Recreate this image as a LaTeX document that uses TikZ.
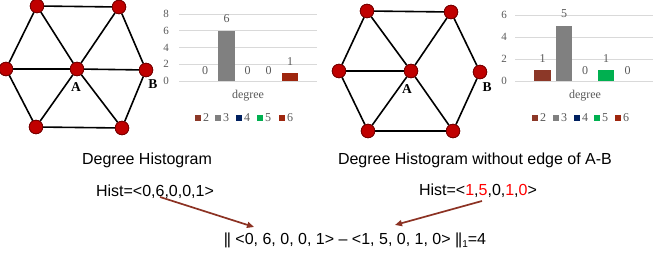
\documentclass[tikz,border=0pt]{standalone}
\usepackage{fontspec}
\setmainfont{Liberation Serif}
\newfontfamily\arial{Liberation Sans}
\usetikzlibrary{arrows.meta}
\definecolor{nodered}{RGB}{192,0,0}
\definecolor{nodeedge}{RGB}{120,0,0}
\definecolor{cbrown}{RGB}{140,56,40}
\definecolor{cgray}{RGB}{128,128,128}
\definecolor{cnavy}{RGB}{0,32,96}
\definecolor{cgreen}{RGB}{0,176,80}
\definecolor{cred}{RGB}{158,38,14}
\definecolor{gridc}{RGB}{217,217,217}
\definecolor{axtext}{RGB}{89,89,89}
\definecolor{arrowc}{RGB}{140,50,35}
\definecolor{hred}{RGB}{255,0,0}
\tikzset{
  vtx/.style={circle,fill=nodered,draw=nodeedge,line width=0.8pt,minimum size=13.5pt,inner sep=0pt},
  edge/.style={line width=1.6pt,black},
  vlabel/.style={font=\fontsize{13.5}{13.5}\selectfont\bfseries,inner sep=0pt},
  gridl/.style={gridc,line width=0.8pt},
  axlab/.style={font=\fontsize{11}{11}\selectfont,text=axtext,inner sep=0pt},
  datlab/.style={font=\fontsize{12}{12}\selectfont,text=axtext,inner sep=0pt},
  legsq/.style={minimum size=6.5pt,inner sep=0pt},
  title/.style={font=\arial\fontsize{16}{16}\selectfont,inner sep=0pt},
  hist/.style={font=\arial\fontsize{16}{16}\selectfont,inner sep=0pt},
  pointer/.style={arrowc,line width=1.7pt,-{Triangle[length=7pt,width=6pt]}},
}
\newcommand{\dbar}{\mbox{|\kern-1.2pt|}}
\newcommand{\subone}{\raisebox{-3.5pt}{\fontsize{10}{10}\selectfont 1}}
\begin{document}
\begin{tikzpicture}[x=1pt,y=-1pt]
\useasboundingbox (0,0) rectangle (664,261);

% ---------- left graph ----------
\node[vtx] (lTL) at (37,6) {};
\node[vtx] (lTR) at (119,7) {};
\node[vtx] (lL) at (6,69) {};
\node[vtx] (lA) at (77,69) {};
\node[vtx] (lB) at (146,70) {};
\node[vtx] (lBL) at (36,127) {};
\node[vtx] (lBR) at (122,128) {};
\draw[edge] (lTL) -- (lTR);
\draw[edge] (lTL) -- (lL);
\draw[edge] (lTL) -- (lA);
\draw[edge] (lTR) -- (lA);
\draw[edge] (lTR) -- (lB);
\draw[edge] (lL) -- (lA);
\draw[edge] (lA) -- (lB);
\draw[edge] (lL) -- (lBL);
\draw[edge] (lA) -- (lBL);
\draw[edge] (lA) -- (lBR);
\draw[edge] (lB) -- (lBR);
\draw[edge] (lBL) -- (lBR);
\foreach \n in {lTL,lTR,lL,lA,lB,lBL,lBR}{\node[vtx] at (\n) {};}
\node[vlabel] (lAl) at (76,87) {A};
\node[vlabel] (lBl) at (153,84) {B};

% ---------- right graph ----------
\node[vtx] (rTL) at (367,11) {};
\node[vtx] (rTR) at (451,12) {};
\node[vtx] (rL) at (339,71) {};
\node[vtx] (rA) at (411,71) {};
\node[vtx] (rB) at (480,72) {};
\node[vtx] (rBL) at (368,131) {};
\node[vtx] (rBR) at (453,131) {};
\draw[edge] (rTL) -- (rTR);
\draw[edge] (rTL) -- (rL);
\draw[edge] (rTL) -- (rA);
\draw[edge] (rTR) -- (rA);
\draw[edge] (rTR) -- (rB);
\draw[edge] (rL) -- (rA);
\draw[edge] (rL) -- (rBL);
\draw[edge] (rA) -- (rBL);
\draw[edge] (rA) -- (rBR);
\draw[edge] (rB) -- (rBR);
\draw[edge] (rBL) -- (rBR);
\foreach \n in {rTL,rTR,rL,rA,rB,rBL,rBR}{\node[vtx] at (\n) {};}
\node[vlabel] (rAl) at (407,89) {A};
\node[vlabel] (rBl) at (487,87) {B};

% ---------- left chart ----------
\foreach \v/\yy in {0/81,2/64.3,4/47.6,6/30.9,8/14.2}{
  \draw[gridl] (179,\yy) -- (317,\yy);
  \node[axlab] at (166,\yy) {\v};
}
\fill[cgray] (218,81) rectangle (235,30.9);
\fill[cred] (282,81) rectangle (298,72.6);
\node[datlab] at (205,71) {0};
\node[datlab] at (226.5,19) {6};
\node[datlab] at (247.5,71) {0};
\node[datlab] at (268.5,71) {0};
\node[datlab] at (290,62) {1};
\node[datlab] at (248,96) {degree};
\foreach \c/\xx/\t in {cbrown/198/2,cgray/218/3,cnavy/239/4,cgreen/260/5,cred/282/6}{
  \node[legsq,fill=\c] at (\xx,118) {};
  \node[datlab,anchor=west] at (\xx+5,117.5) {\t};
}

% ---------- right chart ----------
\foreach \v/\yy in {0/81,2/59,4/37,6/15}{
  \draw[gridl] (515,\yy) -- (653,\yy);
  \node[axlab] at (504,\yy) {\v};
}
\fill[cbrown] (534,81) rectangle (551,70);
\fill[cgray] (556,81) rectangle (572,26);
\fill[cgreen] (598,81) rectangle (614,70);
\node[datlab] at (542.5,59) {1};
\node[datlab] at (564,14) {5};
\node[datlab] at (585,71) {0};
\node[datlab] at (606,59) {1};
\node[datlab] at (627.5,71) {0};
\node[datlab] at (585,96) {degree};
\foreach \c/\xx/\t in {cbrown/535/2,cgray/556/3,cnavy/577/4,cgreen/597/5,cred/618/6}{
  \node[legsq,fill=\c] at (\xx,118) {};
  \node[datlab,anchor=west] at (\xx+5,117.5) {\t};
}

% ---------- titles ----------
\node[title] (t1) at (147,160) {Degree Histogram};
\node[title] (t2) at (475,160) {Degree Histogram without edge of A-B};
\node[hist] (h1) at (155,192) {Hist=<0,6,0,0,1>};
\node[hist] (h2) at (478,191) {Hist=<\textcolor{hred}{1},\textcolor{hred}{5},0,\textcolor{hred}{1},\textcolor{hred}{0}>};
\node[hist] (f) at (355,240) {\dbar\ <0, 6, 0, 0, 1> – <1, 5, 0, 1, 0> \dbar\subone=4};

\coordinate (a1s) at (160,197);
\coordinate (a1e) at (254,227);
\coordinate (a2s) at (482,201);
\coordinate (a2e) at (395,225);
\draw[pointer] (a1s) -- (a1e);
\draw[pointer] (a2s) -- (a2e);
\end{tikzpicture}
\end{document}
